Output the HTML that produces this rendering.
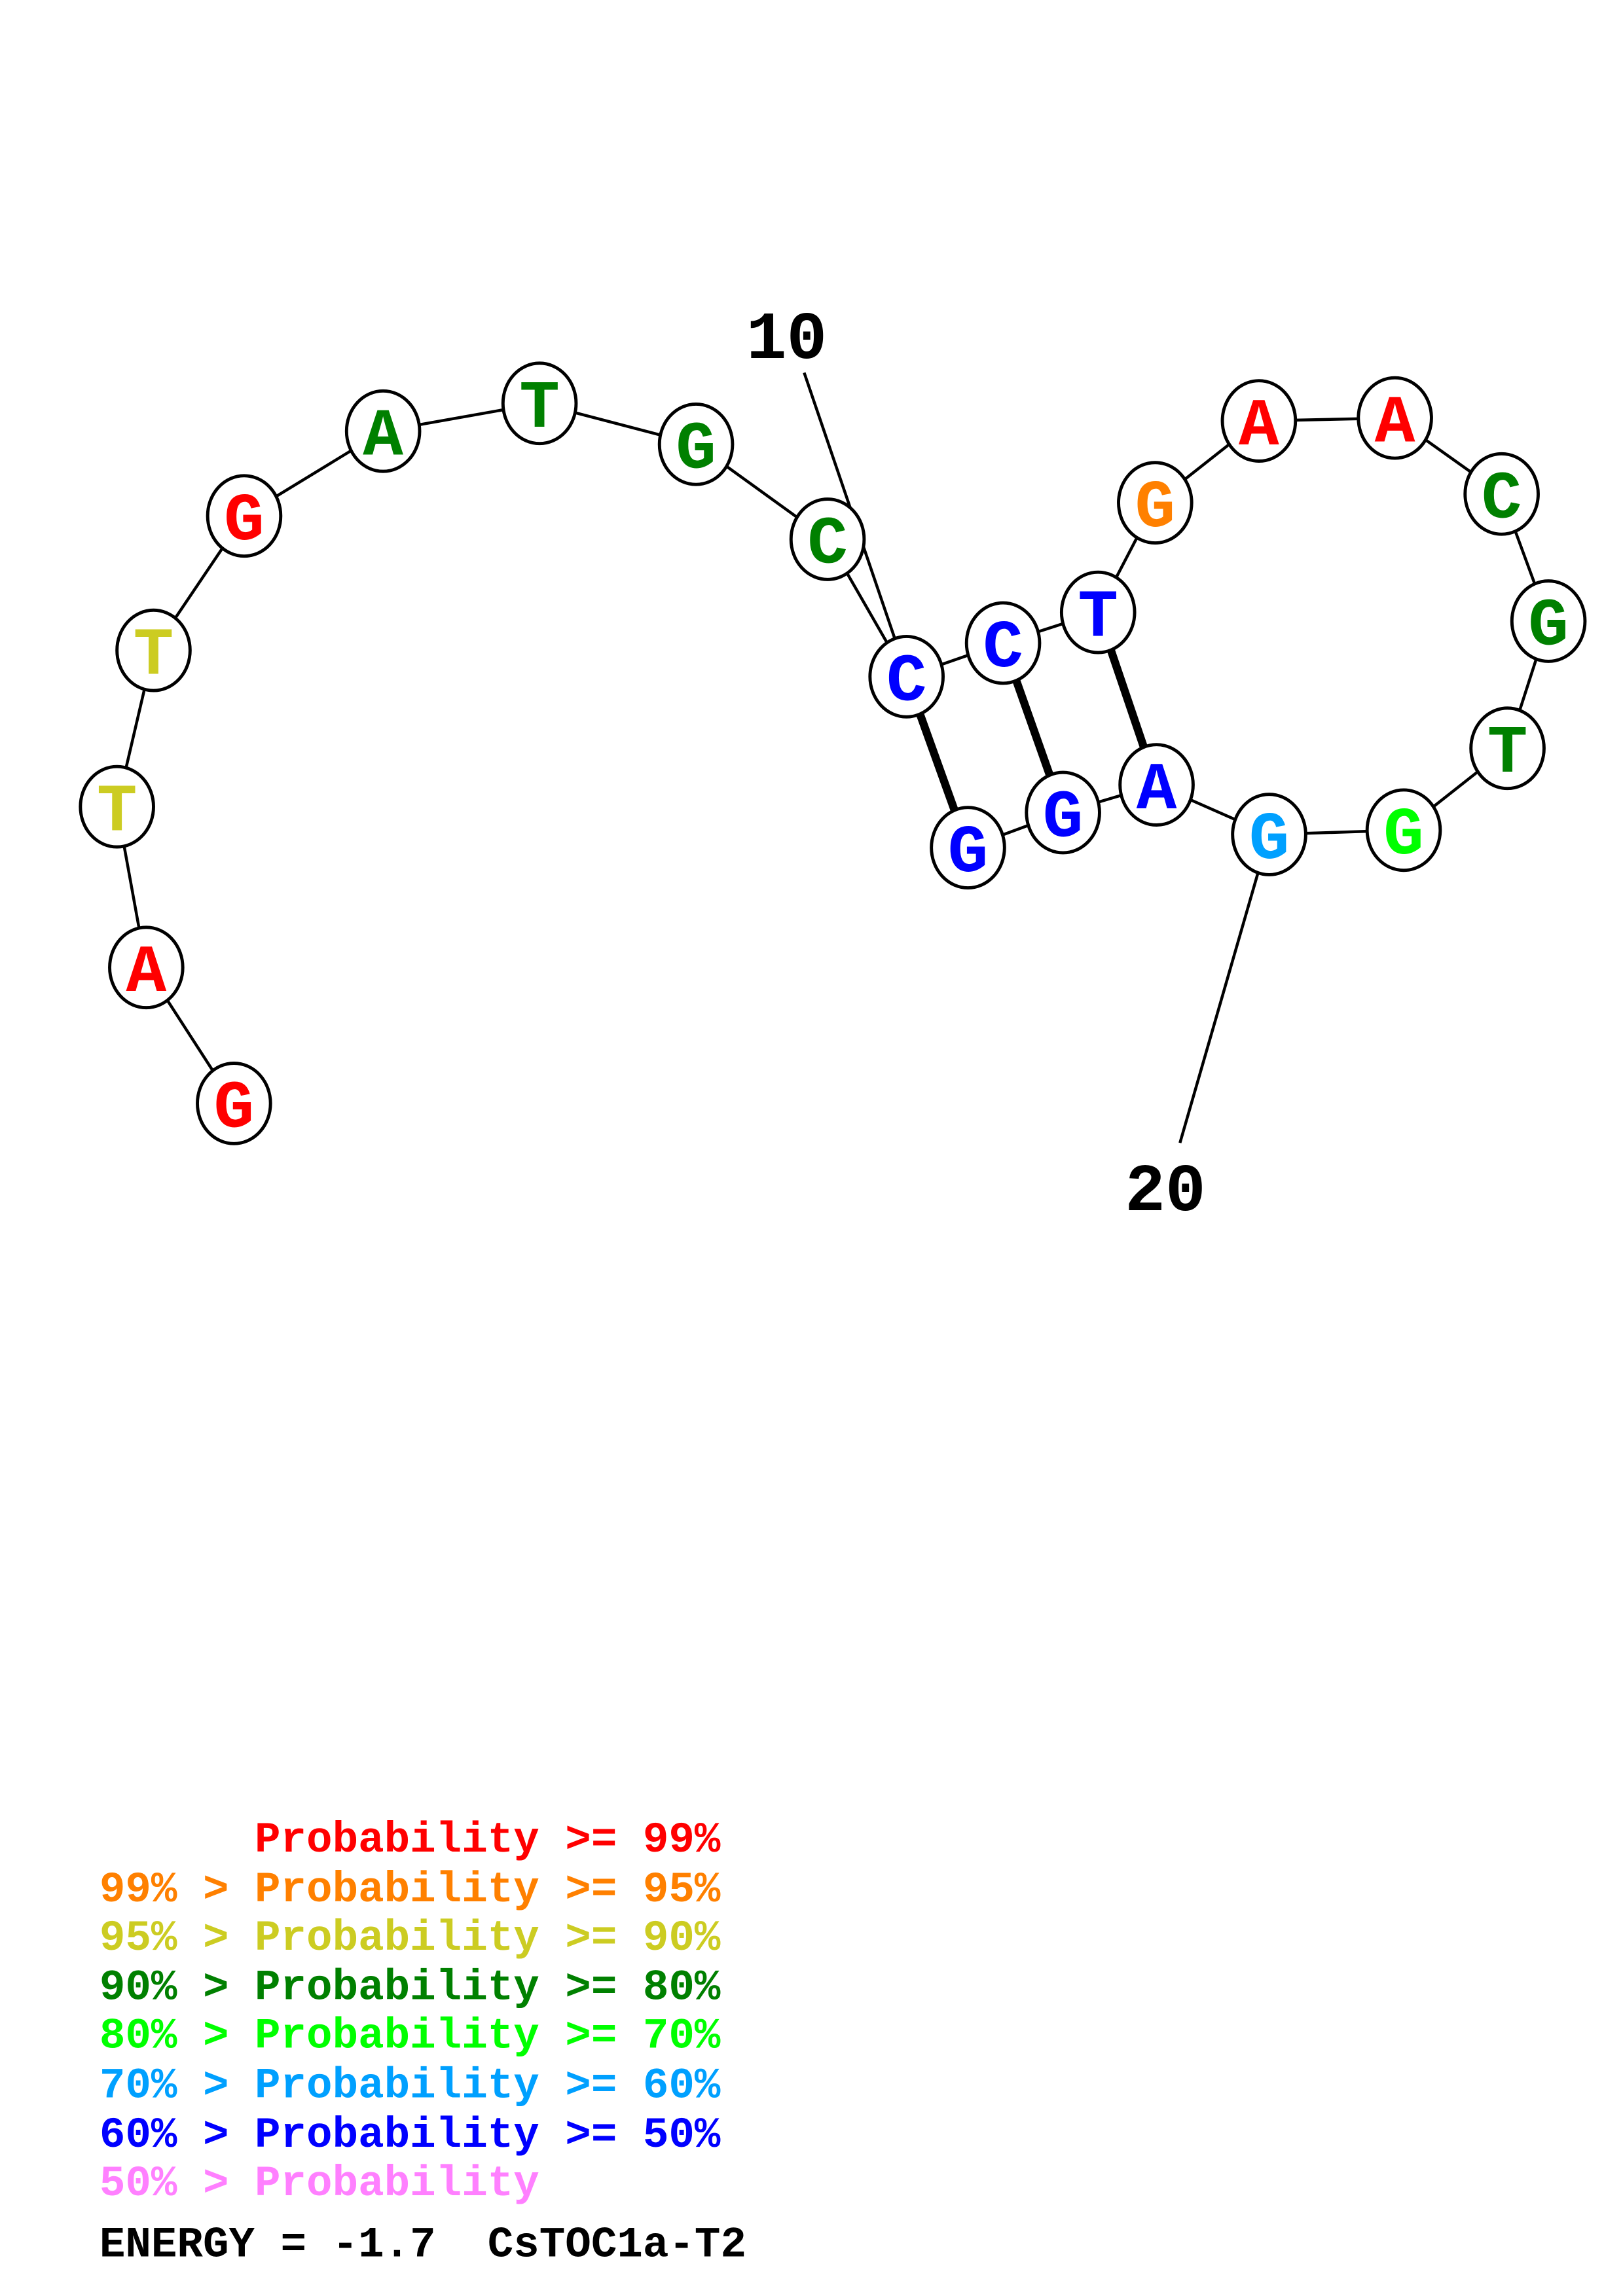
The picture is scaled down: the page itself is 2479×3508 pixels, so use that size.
<!DOCTYPE html>
<html><head><meta charset="utf-8"><style>html,body{margin:0;padding:0;background:#fff}svg{display:block}.lg text{white-space:pre}</style></head><body>
<svg width="2479" height="3508" viewBox="0 0 1110 1571" preserveAspectRatio="none" xmlns="http://www.w3.org/2000/svg">
<g stroke="#000" stroke-width="2" fill="none">
<polyline points="160,755 100,662 80,552 105,445 167,353 262,295 369,276 476,304 566,369 620,463 686,440 751,419 790,344 861,288 954,286 1027,338 1059,425 1031,512 960,568 868,571 791,537 727,556 662,580"/>
<line x1="550" y1="255" x2="613" y2="440"/>
<line x1="807" y1="782" x2="861" y2="595"/>
</g>
<g stroke="#000" stroke-width="5.5">
<line x1="620" y1="463" x2="662" y2="580"/>
<line x1="686" y1="440" x2="727" y2="556"/>
<line x1="751" y1="419" x2="791" y2="537"/>
</g>
<g font-family="Liberation Mono, monospace" font-weight="bold" font-size="46" text-anchor="middle">
<g stroke="#000" stroke-width="2.2" fill="#fff">
<ellipse cx="160" cy="755" rx="25" ry="27.5"/><ellipse cx="100" cy="662" rx="25" ry="27.5"/><ellipse cx="80" cy="552" rx="25" ry="27.5"/><ellipse cx="105" cy="445" rx="25" ry="27.5"/><ellipse cx="167" cy="353" rx="25" ry="27.5"/><ellipse cx="262" cy="295" rx="25" ry="27.5"/><ellipse cx="369" cy="276" rx="25" ry="27.5"/><ellipse cx="476" cy="304" rx="25" ry="27.5"/><ellipse cx="566" cy="369" rx="25" ry="27.5"/><ellipse cx="620" cy="463" rx="25" ry="27.5"/><ellipse cx="686" cy="440" rx="25" ry="27.5"/><ellipse cx="751" cy="419" rx="25" ry="27.5"/><ellipse cx="790" cy="344" rx="25" ry="27.5"/><ellipse cx="861" cy="288" rx="25" ry="27.5"/><ellipse cx="954" cy="286" rx="25" ry="27.5"/><ellipse cx="1027" cy="338" rx="25" ry="27.5"/><ellipse cx="1059" cy="425" rx="25" ry="27.5"/><ellipse cx="1031" cy="512" rx="25" ry="27.5"/><ellipse cx="960" cy="568" rx="25" ry="27.5"/><ellipse cx="868" cy="571" rx="25" ry="27.5"/><ellipse cx="791" cy="537" rx="25" ry="27.5"/><ellipse cx="727" cy="556" rx="25" ry="27.5"/><ellipse cx="662" cy="580" rx="25" ry="27.5"/>
</g>
<text x="160" y="771" fill="#f00">G</text>
<text x="100" y="678" fill="#f00">A</text>
<text x="80" y="568" fill="#cccc22">T</text>
<text x="105" y="461" fill="#cccc22">T</text>
<text x="167" y="369" fill="#f00">G</text>
<text x="262" y="311" fill="#008000">A</text>
<text x="369" y="292" fill="#008000">T</text>
<text x="476" y="320" fill="#008000">G</text>
<text x="566" y="385" fill="#008000">C</text>
<text x="620" y="479" fill="#00f">C</text>
<text x="686" y="456" fill="#00f">C</text>
<text x="751" y="435" fill="#00f">T</text>
<text x="790" y="360" fill="#ff8000">G</text>
<text x="861" y="304" fill="#f00">A</text>
<text x="954" y="302" fill="#f00">A</text>
<text x="1027" y="354" fill="#008000">C</text>
<text x="1059" y="441" fill="#008000">G</text>
<text x="1031" y="528" fill="#008000">T</text>
<text x="960" y="584" fill="#00ff00">G</text>
<text x="868" y="587" fill="#00a0ff">G</text>
<text x="791" y="553" fill="#00f">A</text>
<text x="727" y="572" fill="#00f">G</text>
<text x="662" y="596" fill="#00f">G</text>
<text x="538" y="245" fill="#000" font-size="46">10</text>
<text x="797" y="828" fill="#000" font-size="46">20</text>
</g>
<g class="lg" font-family="Liberation Mono, monospace" font-weight="bold" font-size="29.5">
<text x="68" y="1267" fill="#f00">      Probability &gt;= 99%</text>
<text x="68" y="1301" fill="#ff8000">99% &gt; Probability &gt;= 95%</text>
<text x="68" y="1334" fill="#cccc22">95% &gt; Probability &gt;= 90%</text>
<text x="68" y="1368" fill="#008000">90% &gt; Probability &gt;= 80%</text>
<text x="68" y="1401" fill="#00ff00">80% &gt; Probability &gt;= 70%</text>
<text x="68" y="1435" fill="#00a0ff">70% &gt; Probability &gt;= 60%</text>
<text x="68" y="1469" fill="#00f">60% &gt; Probability &gt;= 50%</text>
<text x="68" y="1502" fill="#ff80ff">50% &gt; Probability</text>
<text x="68" y="1544" fill="#000">ENERGY = -1.7  CsTOC1a-T2</text>
</g>
</svg>
</body></html>
